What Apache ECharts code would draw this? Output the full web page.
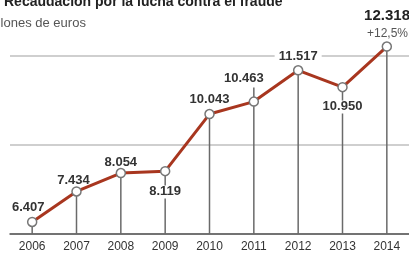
<!DOCTYPE html>
<html>
<head>
<meta charset="utf-8">
<script src="https://cdn.jsdelivr.net/npm/echarts@6/dist/echarts.min.js"></script>
<style>
  html, body { margin: 0; padding: 0; background: #fff; }
  #chart { width: 409px; height: 253px; }
</style>
</head>
<body>
<div id="chart"></div>
<script>
// datos (millones de euros)
var years = ['2006', '2007', '2008', '2009', '2010', '2011', '2012', '2013', '2014'];
var values = [6407, 7434, 8054, 8119, 10043, 10463, 11517, 10950, 12318];
var valueLabels = ['6.407', '7.434', '8.054', '8.119', '10.043', '10.463', '11.517', '10.950', '12.318'];
var labelSide = ['top', 'top', 'top', 'bottom', 'top', 'top', 'top', 'bottom', 'none'];
var yTicks = [6000, 9000, 12000];
var lastChange = '+12,5%';

var myChart = echarts.init(document.getElementById('chart'));
var font = '"Liberation Sans Narrow", "Liberation Sans", Arial, sans-serif';

// ajustes de colocación de etiquetas (px)
var withBg = [3, 6, 7];   // tapan varilla o rejilla
var labelDist = [3, -1, -1, 9, 3, 11, 2, 8, 0];
var labelDx = [-4, -3, 0, 0, 0, -10, 0, 0, 0];

var lineData = values.map(function (v, i) {
  var side = labelSide[i];
  var bg = withBg.indexOf(i) >= 0;
  return {
    value: v,
    label: {
      show: side !== 'none',
      position: side,
      distance: labelDist[i],
      offset: [labelDx[i], 0],
      backgroundColor: bg ? '#ffffff' : 'transparent',
      padding: bg ? [0, 4] : 0,
      formatter: valueLabels[i]
    }
  };
});

var option = {
  backgroundColor: '#ffffff',
  animation: false,
  title: [
    {
      text: 'Recaudación por la lucha contra el fraude',
      left: -1, top: -10,
      textStyle: { fontFamily: font, fontSize: 14, fontWeight: 'bold', color: '#222' }
    },
    {
      text: 'Millones de euros',
      left: -21, top: 12,
      textStyle: { fontFamily: font, fontSize: 13, fontWeight: 'normal', color: '#555' }
    },
    {
      text: valueLabels[8],
      right: -6, top: 3,
      textStyle: { fontFamily: font, fontSize: 15, fontWeight: 'bold', color: '#222' }
    },
    {
      text: lastChange,
      right: -4, top: 23,
      textStyle: { fontFamily: font, fontSize: 12, fontWeight: 'normal', color: '#555' }
    }
  ],
  grid: { left: 10, right: -2, top: 56, bottom: 16 },
  xAxis: {
    type: 'category',
    data: years,
    axisTick: { show: false },
    axisLine: { lineStyle: { color: '#555', width: 1.5 } },
    axisLabel: { fontFamily: font, fontSize: 12, color: '#333', margin: 7 }
  },
  yAxis: {
    type: 'value',
    min: yTicks[0],
    max: yTicks[yTicks.length - 1],
    interval: 3000,
    axisLabel: { show: false },
    axisLine: { show: false },
    axisTick: { show: false },
    splitLine: { lineStyle: { color: '#cfcfcf', width: 2 } }
  },
  series: [
    {
      // varillas verticales
      type: 'custom',
      z: 2,
      clip: false,
      data: values.map(function (v, i) { return [i, v]; }),
      renderItem: function (params, api) {
        var p = api.coord([api.value(0), api.value(1)]);
        var b = api.coord([api.value(0), yTicks[0]]);
        var extra = params.dataIndex === 5 ? 14 : 0;
        return {
          type: 'line',
          shape: { x1: p[0], y1: p[1] - extra, x2: b[0], y2: b[1] },
          style: { stroke: '#6a6a6a', lineWidth: 1.5 }
        };
      }
    },
    {
      type: 'line',
      z: 3,
      clip: false,
      data: lineData,
      symbol: 'circle',
      symbolSize: 9,
      lineStyle: { color: '#a8361f', width: 3 },
      itemStyle: { color: '#ffffff', borderColor: '#777', borderWidth: 1.5 },
      label: {
        fontFamily: font,
        fontSize: 13,
        fontWeight: 'bold',
        color: '#333'
      }
    }
  ]
};

myChart.setOption(option);
window.onresize = function () {
  myChart.resize();
};
</script>
</body>
</html>
